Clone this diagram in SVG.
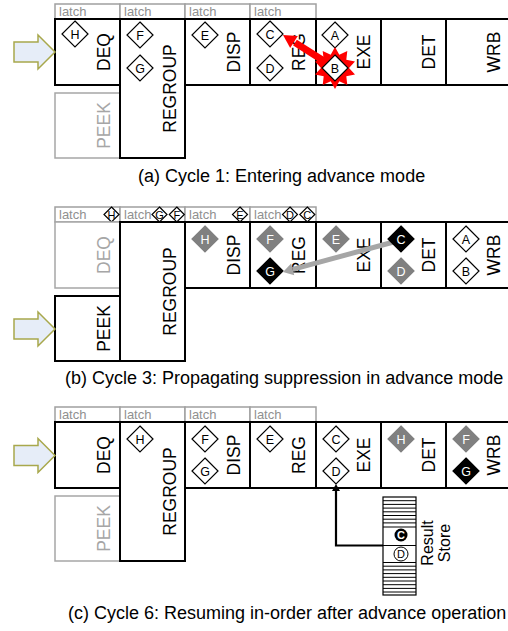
<svg xmlns="http://www.w3.org/2000/svg" xmlns:xlink="http://www.w3.org/1999/xlink" width="508" height="631" viewBox="0 0 508 631">
  <style>
    text { font-family: "Liberation Sans", Arial, sans-serif; }
    .latch { fill: #fff; stroke: #a0a0a0; stroke-width: 1.5; }
    .latch-t { font-size: 13px; fill: #909090; }
    .stage { fill: #fff; stroke: #000; stroke-width: 2; }
    .stage-off { fill: #fff; stroke: #a6a6a6; stroke-width: 1.5; }
    .lbl { font-size: 17.5px; fill: #000; text-anchor: middle; }
    .lbl-off { font-size: 17.5px; fill: #a6a6a6; text-anchor: middle; }
    .d-w { fill: #fff; stroke: #000; stroke-width: 1.2; }
    .d-g { fill: #808080; stroke: #808080; stroke-width: 1.2; }
    .d-b { fill: #000; stroke: #000; stroke-width: 1.2; }
    .dt { font-size: 12.5px; text-anchor: middle; fill: #000; }
    .dt-w { font-size: 12.5px; text-anchor: middle; fill: #fff; }
    .st { font-size: 11px; text-anchor: middle; fill: #000; }
    .feed { fill: #e6edf8; stroke: #a8a84c; stroke-width: 1.5; }
    .cap { font-size: 18px; fill: #000; }
  </style>
  <defs>
    <path id="dia" d="M0,-13 L13,0 L0,13 L-13,0 Z"/>
    <path id="sdia" d="M0,-7.5 L7.5,0 L0,7.5 L-7.5,0 Z"/>
    <!-- block arrow feeding the front end, tip at origin -->
    <path id="feedArrow" d="M-41,-10 L-17,-10 L-17,-17 L0,0 L-17,17 L-17,10 L-41,10 Z"/>
    <!-- one panel's latch row -->
    <g id="latchRow">
      <rect class="latch" x="55" y="4" width="65" height="15"/>
      <rect class="latch" x="120" y="4" width="65" height="15"/>
      <rect class="latch" x="185" y="4" width="65" height="15"/>
      <rect class="latch" x="250" y="4" width="66" height="15"/>
      <text class="latch-t" x="59" y="16">latch</text>
      <text class="latch-t" x="124" y="16">latch</text>
      <text class="latch-t" x="189" y="16">latch</text>
      <text class="latch-t" x="254" y="16">latch</text>
    </g>
    <!-- back-end stages shared by all panels -->
    <g id="backStages">
      <rect class="stage" x="185" y="19" width="65" height="66"/>
      <rect class="stage" x="250" y="19" width="66" height="66"/>
      <rect class="stage" x="316" y="19" width="65" height="66"/>
      <rect class="stage" x="381" y="19" width="65" height="66"/>
      <rect class="stage" x="446" y="19" width="70" height="66"/>
      <text class="lbl" transform="translate(240,52) rotate(-90)">DISP</text>
      <text class="lbl" transform="translate(305,52) rotate(-90)">REG</text>
      <text class="lbl" transform="translate(370,52) rotate(-90)">EXE</text>
      <text class="lbl" transform="translate(435,52) rotate(-90)">DET</text>
      <text class="lbl" transform="translate(500,52) rotate(-90)">WRB</text>
    </g>
    <g id="regroup">
      <rect class="stage" x="120" y="19" width="65" height="139"/>
      <text class="lbl" transform="translate(176,88.5) rotate(-90)">REGROUP</text>
    </g>
  </defs>

  <!-- ===== (a) Cycle 1 ===== -->
  <g id="panel-a">
    <use xlink:href="#latchRow"/>
    <g id="a-deq">
      <rect class="stage" x="55" y="19" width="65" height="66"/>
      <text class="lbl" transform="translate(110,52) rotate(-90)">DEQ</text>
      <use xlink:href="#dia" class="d-w" x="75" y="34"/>
      <text class="dt" x="75" y="38.5">H</text>
    </g>
    <g id="a-peek">
      <rect class="stage-off" x="55" y="93" width="65" height="65"/>
      <text class="lbl-off" transform="translate(110,125.5) rotate(-90)">PEEK</text>
    </g>
    <g id="a-regroup">
      <use xlink:href="#regroup"/>
      <use xlink:href="#dia" class="d-w" x="140" y="35"/>
      <text class="dt" x="140" y="39.5">F</text>
      <use xlink:href="#dia" class="d-w" x="140" y="68"/>
      <text class="dt" x="140" y="72.5">G</text>
    </g>
    <g id="a-back">
      <use xlink:href="#backStages"/>
      <use xlink:href="#dia" class="d-w" x="205" y="35"/>
      <text class="dt" x="205" y="39.5">E</text>
      <use xlink:href="#dia" class="d-w" x="270" y="34"/>
      <text class="dt" x="270" y="38.5">C</text>
      <use xlink:href="#dia" class="d-w" x="270" y="68"/>
      <text class="dt" x="270" y="72.5">D</text>
      <use xlink:href="#dia" class="d-w" x="335" y="35"/>
      <text class="dt" x="335" y="39.5">A</text>
    </g>
    <g id="a-mispredict">
      <!-- burst marking the branch B -->
      <polygon fill="#ff0000" points="335,47 339.3,54.7 347.3,51 346.3,59.8 355,61.5 349,68 355,74.5 346.3,76.2 347.3,85 339.3,81.3 335,89 330.7,81.3 322.7,85 323.7,76.2 315,74.5 321,68 315,61.5 323.7,59.8 322.7,51 330.7,54.7"/>
      <!-- flush arrow from B back to C -->
      <line x1="333" y1="66.7" x2="295" y2="42.6" stroke="#ff0000" stroke-width="7"/>
      <polygon fill="#ff0000" points="283,35 297.8,36.1 290.2,47.9"/>
      <use xlink:href="#dia" class="d-w" x="335" y="68"/>
      <text class="dt" x="335" y="72.5">B</text>
    </g>
    <use xlink:href="#feedArrow" class="feed" x="55" y="52"/>
    <text class="cap" x="138" y="182">(a) Cycle 1: Entering advance mode</text>
  </g>

  <!-- ===== (b) Cycle 3 ===== -->
  <g id="panel-b">
    <use xlink:href="#latchRow" y="203"/>
    <g id="b-latch-marks">
      <use xlink:href="#sdia" class="d-w" x="111.5" y="214.5"/>
      <text class="st" x="111.5" y="218.5">H</text>
      <use xlink:href="#sdia" class="d-w" x="159.5" y="214.5"/>
      <text class="st" x="159.5" y="218.5">G</text>
      <use xlink:href="#sdia" class="d-w" x="176.8" y="214.5"/>
      <text class="st" x="176.8" y="218.5">F</text>
      <use xlink:href="#sdia" class="d-w" x="240" y="214.5"/>
      <text class="st" x="240" y="218.5">E</text>
      <use xlink:href="#sdia" class="d-w" x="290" y="214.5"/>
      <text class="st" x="290" y="218.5">D</text>
      <use xlink:href="#sdia" class="d-w" x="307.3" y="214.5"/>
      <text class="st" x="307.3" y="218.5">C</text>
    </g>
    <g id="b-deq">
      <rect class="stage-off" x="55" y="222" width="65" height="66"/>
      <text class="lbl-off" transform="translate(110,255) rotate(-90)">DEQ</text>
    </g>
    <g id="b-peek">
      <rect class="stage" x="55" y="296" width="65" height="65"/>
      <text class="lbl" transform="translate(110,328.5) rotate(-90)">PEEK</text>
    </g>
    <g id="b-regroup">
      <use xlink:href="#regroup" y="203"/>
    </g>
    <g id="b-back">
      <use xlink:href="#backStages" y="203"/>
      <use xlink:href="#dia" class="d-g" x="205" y="239"/>
      <text class="dt-w" x="205" y="243.5">H</text>
      <use xlink:href="#dia" class="d-g" x="270" y="239"/>
      <text class="dt-w" x="270" y="243.5">F</text>
      <use xlink:href="#dia" class="d-b" x="270" y="271"/>
      <text class="dt-w" x="270" y="275.5">G</text>
      <use xlink:href="#dia" class="d-g" x="336" y="239"/>
      <text class="dt-w" x="336" y="243.5">E</text>
      <use xlink:href="#dia" class="d-g" x="401" y="271"/>
      <text class="dt-w" x="401" y="275.5">D</text>
      <use xlink:href="#dia" class="d-w" x="466" y="239"/>
      <text class="dt" x="466" y="243.5">A</text>
      <use xlink:href="#dia" class="d-w" x="466" y="271"/>
      <text class="dt" x="466" y="275.5">B</text>
    </g>
    <g id="b-suppress">
      <line x1="401" y1="240" x2="292.7" y2="269.4" stroke="#a6a6a6" stroke-width="5"/>
      <polygon fill="#a6a6a6" points="283,272 294.3,275.2 291.1,263.6"/>
      <use xlink:href="#dia" class="d-b" x="401" y="239"/>
      <text class="dt-w" x="401" y="243.5">C</text>
    </g>
    <use xlink:href="#feedArrow" class="feed" x="55" y="329"/>
    <text class="cap" x="65" y="384">(b) Cycle 3: Propagating suppression in advance mode</text>
  </g>

  <!-- ===== (c) Cycle 6 ===== -->
  <g id="panel-c">
    <use xlink:href="#latchRow" y="403"/>
    <g id="c-deq">
      <rect class="stage" x="55" y="422" width="65" height="66"/>
      <text class="lbl" transform="translate(110,455) rotate(-90)">DEQ</text>
    </g>
    <g id="c-peek">
      <rect class="stage-off" x="55" y="496" width="65" height="65"/>
      <text class="lbl-off" transform="translate(110,528.5) rotate(-90)">PEEK</text>
    </g>
    <g id="c-regroup">
      <use xlink:href="#regroup" y="403"/>
      <use xlink:href="#dia" class="d-w" x="140" y="439"/>
      <text class="dt" x="140" y="443.5">H</text>
    </g>
    <g id="c-back">
      <use xlink:href="#backStages" y="403"/>
      <use xlink:href="#dia" class="d-w" x="205" y="439"/>
      <text class="dt" x="205" y="443.5">F</text>
      <use xlink:href="#dia" class="d-w" x="205" y="471"/>
      <text class="dt" x="205" y="475.5">G</text>
      <use xlink:href="#dia" class="d-w" x="270" y="439"/>
      <text class="dt" x="270" y="443.5">E</text>
      <use xlink:href="#dia" class="d-w" x="336" y="439"/>
      <text class="dt" x="336" y="443.5">C</text>
      <use xlink:href="#dia" class="d-w" x="336" y="471"/>
      <text class="dt" x="336" y="475.5">D</text>
      <use xlink:href="#dia" class="d-g" x="401" y="439"/>
      <text class="dt-w" x="401" y="443.5">H</text>
      <use xlink:href="#dia" class="d-g" x="466" y="439"/>
      <text class="dt-w" x="466" y="443.5">F</text>
      <use xlink:href="#dia" class="d-b" x="466" y="471"/>
      <text class="dt-w" x="466" y="475.5">G</text>
    </g>
    <g id="c-result-store">
      <rect x="383" y="497" width="33" height="98" fill="#fff" stroke="#000" stroke-width="1.2"/>
      <path stroke="#000" stroke-width="1" fill="none" d="M383,500.7 H416 M383,504.4 H416 M383,508.1 H416 M383,511.8 H416 M383,515.5 H416 M383,519.2 H416 M383,522.9 H416 M383,527 H416 M383,545.5 H416 M383,562.5 H416 M383,566.2 H416 M383,569.9 H416 M383,573.6 H416 M383,577.3 H416 M383,581 H416 M383,584.7 H416 M383,588.4 H416 M383,592 H416"/>
      <circle cx="401" cy="535" r="6.5" fill="#000"/>
      <text x="401" y="539" font-size="11" font-weight="bold" text-anchor="middle" fill="#fff">C</text>
      <circle cx="401" cy="554" r="7" fill="#fff" stroke="#000" stroke-width="1"/>
      <text class="st" x="401" y="558">D</text>
      <text font-size="16" text-anchor="middle" transform="translate(433,543) rotate(-90)">Result</text>
      <text font-size="16" text-anchor="middle" transform="translate(450,543) rotate(-90)">Store</text>
    </g>
    <use xlink:href="#feedArrow" class="feed" x="55" y="455.5"/>
    <text class="cap" x="68" y="619">(c) Cycle 6: Resuming in-order after advance operation</text>
  </g>

  <!-- connectors -->
  <g id="connectors">
    <path d="M383,545.5 H336 V490" fill="none" stroke="#000" stroke-width="2.2"/>
    <polygon points="336,484 332,491 340,491" fill="#000"/>
  </g>
</svg>
